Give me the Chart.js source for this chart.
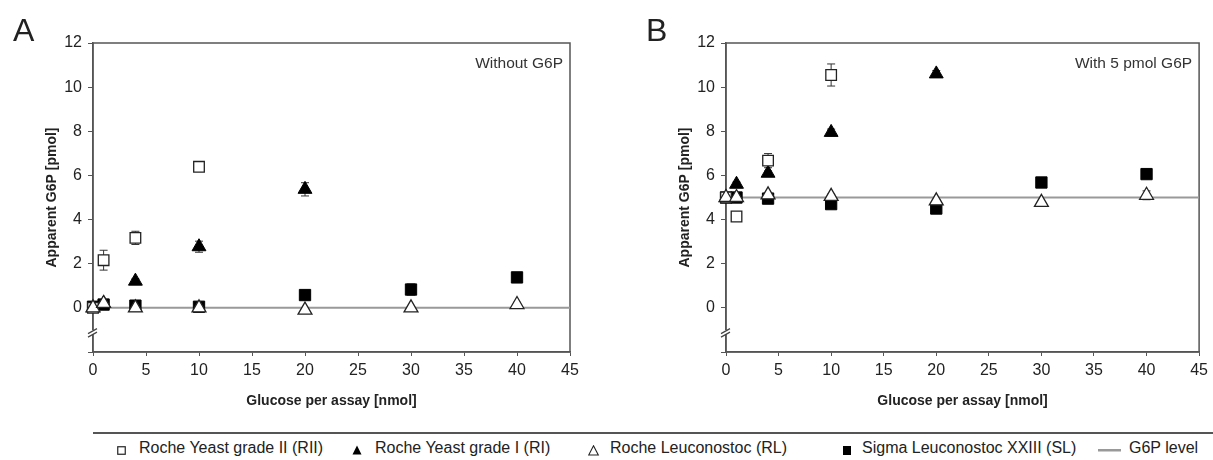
<!DOCTYPE html>
<html>
<head>
<meta charset="utf-8">
<script src="https://cdn.jsdelivr.net/npm/chart.js@4"></script>
<style>
  body { margin: 0; background: #fff; font-family: 'Liberation Sans', Arial, sans-serif; }
  #wrap { position: relative; width: 1213px; height: 460px; overflow: hidden; }
  canvas { position: absolute; top: 0; }
  #chartA { left: 0; }
  #chartB { left: 633px; }
  #legendLine { position: absolute; left: 93px; top: 432px; width: 1120px; height: 1.5px; background: #555; }
  .item { position: absolute; top: 439px; font-size: 16px; color: #222; white-space: nowrap; }
  .item svg { position: absolute; }
</style>
</head>
<body>
<div id="wrap">
  <canvas id="chartA" width="600" height="410"></canvas>
  <canvas id="chartB" width="580" height="410"></canvas>
  <div id="legendLine"></div>
  <div class="item" style="left:117px"><svg width="10" height="10" style="left:0;top:7px"><rect x="0.75" y="0.75" width="7.5" height="7.5" fill="#fff" stroke="#222" stroke-width="1.2"/></svg><span style="margin-left:22px">Roche Yeast grade II (RII)</span></div>
  <div class="item" style="left:352px"><svg width="11" height="11" style="left:0;top:6px"><polygon points="5,0.5 9.5,9.5 0.5,9.5" fill="#000"/></svg><span style="margin-left:23px">Roche Yeast grade I (RI)</span></div>
  <div class="item" style="left:588px"><svg width="12" height="12" style="left:0;top:6px"><polygon points="5.5,0.8 10.3,10 0.7,10" fill="#fff" stroke="#222" stroke-width="1.1"/></svg><span style="margin-left:22px">Roche Leuconostoc (RL)</span></div>
  <div class="item" style="left:843px"><svg width="9" height="10" style="left:0;top:7px"><rect x="0" y="0" width="8" height="9" fill="#000"/></svg><span style="margin-left:19px">Sigma Leuconostoc XXIII (SL)</span></div>
  <div class="item" style="left:1098px"><svg width="24" height="4" style="left:0;top:10px"><rect x="0" y="0" width="23" height="2.5" fill="#999"/></svg><span style="margin-left:31px">G6P level</span></div>
</div>
<script>
// glucose per assay [nmol]
const glucoseRII = [0, 1, 4, 10];
const glucoseRI = [0, 1, 4, 10, 20];
const glucoseAll = [0, 1, 4, 10, 20, 30, 40];

// panel A, without G6P
const aRII = [0, 2.16, 3.17, 6.39];
const aRIIErr = [0, 0.45, 0.3, 0.05];
const aRI = [0, 0.2, 1.21, 2.77, 5.37];
const aRIErr = [0, 0, 0.1, 0.25, 0.3];
const aRL = [0, 0.2, 0, 0, -0.1, 0, 0.15];
const aRLErr = [0, 0, 0, 0, 0, 0.05, 0.1];
const aSL = [0.05, 0.15, 0.1, 0.05, 0.58, 0.83, 1.38];
const aSLErr = [0, 0, 0, 0, 0, 0.25, 0];
const aLevel = 0;

// panel B, with 5 pmol G6P
const bRII = [5.0, 4.14, 6.67, 10.55];
const bRIIErr = [0, 0, 0.32, 0.5];
const bRI = [5.0, 5.6, 6.1, 7.95, 10.6];
const bRIErr = [0, 0.1, 0.1, 0.15, 0.15];
const bRL = [5.0, 5.0, 5.12, 5.05, 4.85, 4.78, 5.1];
const bRLErr = [0, 0, 0.1, 0.1, 0.05, 0, 0.2];
const bSL = [5.0, 5.0, 4.95, 4.7, 4.5, 5.68, 6.06];
const bSLErr = [0, 0, 0, 0, 0, 0.1, 0];
const bLevel = 5;

const yTicks = [0, 2, 4, 6, 8, 10, 12];

Chart.defaults.font.family = "'Liberation Sans', Arial, sans-serif";

function pts(xs, ys) {
  return xs.map((x, i) => ({ x: x, y: ys[i] }));
}

const panelPlugin = {
  id: 'panel',
  beforeDatasetsDraw(chart, args, opts) {
    const { ctx, chartArea: a, scales: { x, y } } = chart;
    ctx.save();
    // frame
    ctx.strokeStyle = '#555';
    ctx.lineWidth = 1.5;
    ctx.strokeRect(a.left, a.top, a.right - a.left, a.bottom - a.top);
    // axis break
    const yb = y.getPixelForValue(-1.1);
    ctx.fillStyle = '#fff';
    ctx.fillRect(a.left - 2, yb - 2, 4, 4);
    ctx.strokeStyle = '#444';
    ctx.lineWidth = 1.2;
    ctx.beginPath();
    ctx.moveTo(a.left - 5, yb + 1.5); ctx.lineTo(a.left + 4, yb - 3.5);
    ctx.moveTo(a.left - 5, yb + 5); ctx.lineTo(a.left + 4, yb);
    ctx.stroke();
    // error bars
    ctx.strokeStyle = '#333';
    ctx.lineWidth = 1;
    chart.data.datasets.forEach(ds => {
      if (!ds.err) return;
      ds.data.forEach((p, i) => {
        const e = ds.err[i];
        if (!e) return;
        const px = x.getPixelForValue(p.x);
        const y1 = y.getPixelForValue(p.y - e);
        const y2 = y.getPixelForValue(p.y + e);
        ctx.beginPath();
        ctx.moveTo(px, y1); ctx.lineTo(px, y2);
        ctx.moveTo(px - 4, y1); ctx.lineTo(px + 4, y1);
        ctx.moveTo(px - 4, y2); ctx.lineTo(px + 4, y2);
        ctx.stroke();
      });
    });
    ctx.restore();
  },
  afterDraw(chart, args, opts) {
    const { ctx, chartArea: a } = chart;
    ctx.save();
    ctx.fillStyle = '#333';
    ctx.font = "15.5px 'Liberation Sans', Arial, sans-serif";
    ctx.textAlign = 'right';
    ctx.textBaseline = 'alphabetic';
    ctx.fillText(opts.note, a.right - 7, a.top + 25);
    ctx.fillStyle = '#222';
    ctx.font = "32px 'Liberation Sans', Arial, sans-serif";
    ctx.textAlign = 'left';
    ctx.fillText(opts.letter, 13, 41);
    ctx.restore();
  }
};

function makeChart(id, letter, note, s, level, padRight) {
  const open = { backgroundColor: '#fff', borderColor: '#222', borderWidth: 1.3 };
  const filled = { backgroundColor: '#000', borderColor: '#000', borderWidth: 1 };
  return new Chart(document.getElementById(id), {
    type: 'scatter',
    data: {
      datasets: [
        Object.assign({ label: 'Roche Yeast grade II (RII)', data: pts(glucoseRII, s.rii), err: s.riiErr,
          pointStyle: 'rect', pointRadius: 7.5, order: 1, clip: false }, open),
        Object.assign({ label: 'Roche Yeast grade I (RI)', data: pts(glucoseRI, s.ri), err: s.riErr,
          pointStyle: 'triangle', pointRadius: 8, order: 2, clip: false }, filled),
        Object.assign({ label: 'Roche Leuconostoc (RL)', data: pts(glucoseAll, s.rl), err: s.rlErr,
          pointStyle: 'triangle', pointRadius: 8, order: 0, clip: false }, open),
        Object.assign({ label: 'Sigma Leuconostoc XXIII (SL)', data: pts(glucoseAll, s.sl), err: s.slErr,
          pointStyle: 'rect', pointRadius: 8, order: 3, clip: false }, filled),
        { label: 'G6P level', data: [{ x: 0, y: level }, { x: 45, y: level }], showLine: true,
          pointRadius: 0, borderColor: '#999', borderWidth: 2, order: 4 }
      ]
    },
    options: {
      responsive: false,
      animation: false,
      devicePixelRatio: 1,
      layout: { padding: { top: 43, right: padRight, left: 0, bottom: 0 } },
      plugins: {
        legend: { display: false },
        tooltip: { enabled: false },
        panel: { letter: letter, note: note }
      },
      scales: {
        x: {
          type: 'linear', min: 0, max: 45,
          ticks: { stepSize: 5, color: '#222', font: { size: 16 }, padding: 5, maxRotation: 0 },
          grid: { drawOnChartArea: false, tickLength: 4, color: '#555' },
          border: { color: '#555', width: 1.5 },
          title: { display: true, text: 'Glucose per assay [nmol]', color: '#222',
            font: { size: 14, weight: 'bold' }, padding: { top: 3, bottom: 0 } },
          afterFit: sc => { sc.height = 58; }
        },
        y: {
          min: -2, max: 12,
          afterBuildTicks: sc => { sc.ticks = [-2].concat(yTicks).map(v => ({ value: v })); },
          ticks: { color: '#222', font: { size: 16 }, padding: 6,
            callback: v => (v < 0 ? '' : v) },
          grid: { drawOnChartArea: false, tickLength: 5, color: '#555' },
          border: { color: '#555', width: 1.5 },
          title: { display: true, text: 'Apparent G6P [pmol]', color: '#222',
            font: { size: 14, weight: 'bold' }, padding: { top: 44, bottom: 0 } },
          afterFit: sc => { sc.width = 93; }
        }
      }
    },
    plugins: [panelPlugin]
  });
}

makeChart('chartA', 'A', 'Without G6P',
  { rii: aRII, riiErr: aRIIErr, ri: aRI, riErr: aRIErr, rl: aRL, rlErr: aRLErr, sl: aSL, slErr: aSLErr },
  aLevel, 30);
makeChart('chartB', 'B', 'With 5 pmol G6P',
  { rii: bRII, riiErr: bRIIErr, ri: bRI, riErr: bRIErr, rl: bRL, rlErr: bRLErr, sl: bSL, slErr: bSLErr },
  bLevel, 10);
</script>
</body>
</html>
